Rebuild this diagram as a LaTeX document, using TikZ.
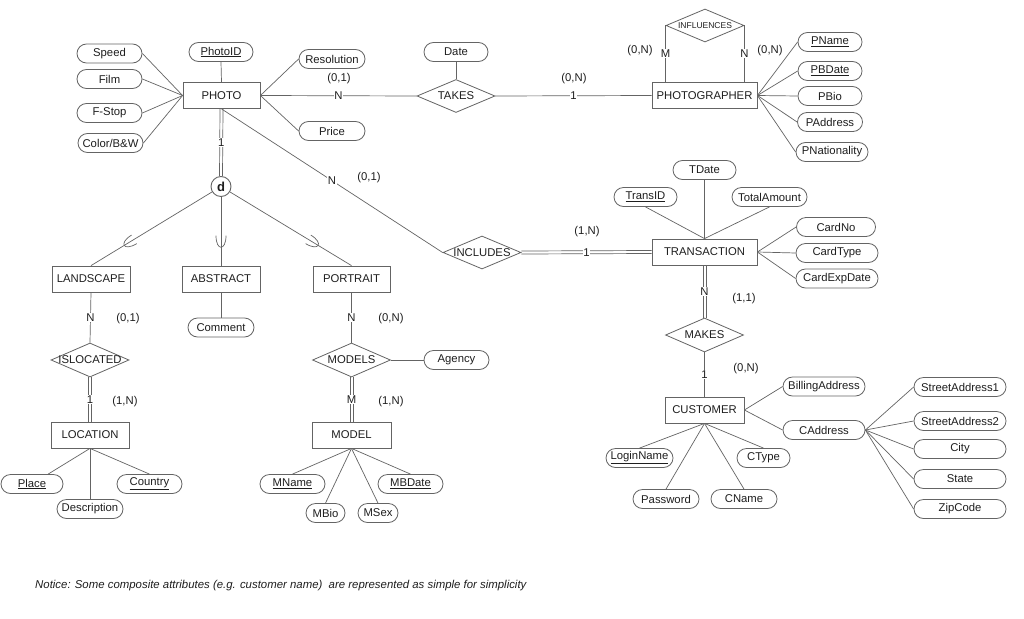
\documentclass[tikz,border=0pt]{standalone}
\usepackage{fontspec}
\setmainfont{Liberation Sans}
\usetikzlibrary{shapes.geometric,decorations.markings,calc}
\definecolor{linecol}{RGB}{100,100,100}
\definecolor{txtcol}{RGB}{30,30,30}
\newcommand{\mkattr}[5]{\node[att, minimum width=#4pt] (#1) at (#2,#3) {#5};}
\begin{document}
\begin{tikzpicture}[x=1pt,y=-1pt,
  every node/.style={text=txtcol, font=\fontsize{11.3}{13}\selectfont},
  ent/.style={draw=linecol, line width=0.8pt, rectangle, minimum width=78pt, minimum height=26pt, inner sep=0pt},
  rel/.style={draw=linecol, line width=0.8pt, diamond, minimum width=78pt, minimum height=33pt, inner sep=0pt},
  att/.style={draw=linecol, line width=0.8pt, rectangle, rounded corners=9.5pt, minimum height=19pt, inner sep=0pt},
  conn/.style={draw=linecol, line width=0.7pt},
  lab/.style={fill=white, inner sep=0.8pt},
  card/.style={inner sep=0pt},
  subsym/.style={postaction={decorate}, decoration={markings, mark=at position #1 with {\draw[linecol, line width=0.7pt] (-8pt,5pt) .. controls (7.5pt,5pt) and (7.5pt,-5pt) .. (-8pt,-5pt);}}}
]
\fill[white] (0,0) rectangle (1024,618);
\useasboundingbox (0,0) rectangle (1024,618);

% entities
\node[ent, minimum width=77pt] (PHOTO) at (221.5,95.5) {PHOTO};
\node[ent, minimum width=105pt] (PG) at (704.5,95.5) {PHOTOGRAPHER};
\node[ent, minimum width=105pt] (TR) at (704.5,252) {TRANSACTION};
\node[ent, minimum width=79pt] (CU) at (704.5,410) {CUSTOMER};
\node[ent] (LAND) at (91,279) {LANDSCAPE};
\node[ent] (ABS) at (221,279) {ABSTRACT};
\node[ent, minimum width=77pt] (PORT) at (351.5,279) {PORTRAIT};
\node[ent] (LOC) at (90,435) {LOCATION};
\node[ent, minimum width=79pt] (MODEL) at (351.5,435) {MODEL};

% relationships
\node[rel] (TAKES) at (456,96) {\makebox[0pt]{TAKES}};
\node[rel, font=\fontsize{8.5}{10}\selectfont] (INFL) at (705,25.5) {\makebox[0pt]{INFLUENCES}};
\node[rel] (INCL) at (482,252.5) {\makebox[0pt]{INCLUDES}};
\node[rel, minimum height=34pt] (MAKES) at (704.5,335) {\makebox[0pt]{MAKES}};
\node[rel, minimum height=34pt] (ISL) at (90,360) {\makebox[0pt]{ISLOCATED}};
\node[rel, minimum height=34pt] (MODELS) at (351.5,360) {\makebox[0pt]{MODELS}};

% disjointness circle
\node[circle, draw=linecol, line width=0.9pt, minimum size=20pt, inner sep=0pt, font=\bfseries\fontsize{13}{15}\selectfont] (d) at (221,186.5) {d};

% attributes
\mkattr{Speed}{109.5}{53.5}{65}{Speed}
\mkattr{Film}{109.5}{79}{65}{Film}
\mkattr{FStop}{109.5}{113}{65}{F-Stop}
\mkattr{Color}{110.5}{143}{65}{Color/B\&W}
\mkattr{PhotoID}{221}{52}{64}{\underline{PhotoID}}
\mkattr{Resolution}{332}{59}{66}{Resolution}
\mkattr{Price}{332}{131}{66}{Price}
\mkattr{Date}{456}{52}{64}{Date}
\mkattr{PName}{830}{42}{64}{\underline{PName}}
\mkattr{PBDate}{830}{71}{64}{\underline{PBDate}}
\mkattr{PBio}{830}{96}{64}{PBio}
\mkattr{PAddress}{830}{122}{65}{PAddress}
\mkattr{PNat}{832}{152}{72}{PNationality}
\mkattr{TDate}{704.5}{170}{63}{TDate}
\mkattr{TransID}{645.5}{197}{63}{\underline{TransID}}
\mkattr{TotalAmount}{769.5}{197}{75}{TotalAmount}
\mkattr{CardNo}{836}{227}{79}{CardNo}
\mkattr{CardType}{837}{253}{82}{CardType}
\mkattr{CardExp}{837}{278.5}{82}{CardExpDate}
\mkattr{Comment}{221}{327.5}{66}{Comment}
\mkattr{Agency}{456.5}{360}{65}{Agency}
\mkattr{Place}{32}{484}{62}{\underline{Place}}
\mkattr{Country}{149.5}{484}{65}{\underline{Country}}
\mkattr{Descr}{90}{509}{66}{Description}
\mkattr{MName}{292.5}{484}{65}{\underline{MName}}
\mkattr{MBDate}{410.5}{484}{65}{\underline{MBDate}}
\mkattr{MBio}{325.5}{513}{39}{MBio}
\mkattr{MSex}{378}{513}{40}{MSex}
\mkattr{Billing}{824}{386.5}{82}{BillingAddress}
\mkattr{CAddress}{824}{430}{82}{CAddress}
\mkattr{SA1}{960}{387}{92}{StreetAddress1}
\mkattr{SA2}{960}{421}{92}{StreetAddress2}
\mkattr{City}{960}{449}{92}{City}
\mkattr{State}{960}{479}{92}{State}
\mkattr{Zip}{960}{509}{92}{ZipCode}
\mkattr{Login}{639.5}{458}{67}{\underline{LoginName}}
\mkattr{CType}{763.5}{458}{53}{CType}
\mkattr{Password}{666}{499}{66}{Password}
\mkattr{CName}{744}{499}{66}{CName}

% cardinality labels
\node[card] (c1) at (339,79) {(0,1)};
\node[card] (c2) at (574,79) {(0,N)};
\node[card] (c3) at (640,51) {(0,N)};
\node[card] (c4) at (770,51) {(0,N)};
\node[card] (c5) at (369,178) {(0,1)};
\node[card] (c6) at (587,232) {(1,N)};
\node[card] (c7) at (744,299) {(1,1)};
\node[card] (c8) at (746,369) {(0,N)};
\node[card] (c9) at (128,319) {(0,1)};
\node[card] (c10) at (125,402) {(1,N)};
\node[card] (c11) at (391,319) {(0,N)};
\node[card] (c12) at (391,402) {(1,N)};

% PHOTO connectors
\draw[conn] (Speed.east) -- (PHOTO.west);
\draw[conn] (Film.east) -- (PHOTO.west);
\draw[conn] (FStop.east) -- (PHOTO.west);
\draw[conn] (Color.east) -- (PHOTO.west);
\draw[conn] (PhotoID.south) -- (PHOTO.north);
\draw[conn] (PHOTO.east) -- (Resolution.west);
\draw[conn] (PHOTO.east) -- (Price.west);
\draw[conn] (PHOTO.east) -- node[lab]{N} (TAKES.west);
\draw[conn] (TAKES.east) -- node[lab]{1} (PG.west);
\draw[conn] (Date.south) -- (TAKES.north);
\draw[conn] (PG.north -| INFL.west) -- node[lab]{M} (INFL.west);
\draw[conn] (PG.north -| INFL.east) -- node[lab]{N} (INFL.east);
\draw[conn] (PG.east) -- (PName.west);
\draw[conn] (PG.east) -- (PBDate.west);
\draw[conn] (PG.east) -- (PBio.west);
\draw[conn] (PG.east) -- (PAddress.west);
\draw[conn] (PG.east) -- (PNat.west);

% specialization
\draw[conn] ([xshift=-1.5pt]PHOTO.south) -- ([xshift=-1.5pt]d.north);
\draw[conn] ([xshift=1.5pt]PHOTO.south) -- ([xshift=1.5pt]d.north);
\path (PHOTO.south) -- node[lab]{1} (d.north);
\draw[conn, subsym=0.70] (d) -- (LAND.north);
\draw[conn, subsym=0.68] (d) -- (ABS.north);
\draw[conn, subsym=0.70] (d) -- (PORT.north);
\draw[conn] (ABS.south) -- (Comment.north);

% location / model
\draw[conn] (LAND.south) -- node[lab]{N} (ISL.north);
\draw[conn] ([xshift=-1.5pt]ISL.south) -- ([xshift=-1.5pt]LOC.north);
\draw[conn] ([xshift=1.5pt]ISL.south) -- ([xshift=1.5pt]LOC.north);
\path (ISL.south) -- node[lab]{1} (LOC.north);
\draw[conn] (PORT.south) -- node[lab]{N} (MODELS.north);
\draw[conn] ([xshift=-1.5pt]MODELS.south) -- ([xshift=-1.5pt]MODEL.north);
\draw[conn] ([xshift=1.5pt]MODELS.south) -- ([xshift=1.5pt]MODEL.north);
\path (MODELS.south) -- node[lab]{M} (MODEL.north);
\draw[conn] (MODELS.east) -- (Agency.west);
\draw[conn] (LOC.south) -- (Place);
\draw[conn] (LOC.south) -- (Country.north);
\draw[conn] (LOC.south) -- (Descr.north);
\draw[conn] (MODEL.south) -- (MName.north);
\draw[conn] (MODEL.south) -- (MBDate.north);
\draw[conn] (MODEL.south) -- (MBio.north);
\draw[conn] (MODEL.south) -- (MSex.north);

% transaction
\draw[conn] (PHOTO.south) -- node[lab]{N} (INCL.west);
\draw[conn] ([yshift=1.5pt]INCL.east) -- ([yshift=1.5pt]TR.west);
\draw[conn] ([yshift=-1.5pt]INCL.east) -- ([yshift=-1.5pt]TR.west);
\path (INCL.east) -- node[lab]{1} (TR.west);
\draw[conn] (TDate.south) -- (TR.north);
\draw[conn] (TransID.south) -- (TR.north);
\draw[conn] (TotalAmount.south) -- (TR.north);
\draw[conn] (TR.east) -- (CardNo.west);
\draw[conn] (TR.east) -- (CardType.west);
\draw[conn] (TR.east) -- (CardExp.west);
\draw[conn] ([xshift=-1.5pt]TR.south) -- ([xshift=-1.5pt]MAKES.north);
\draw[conn] ([xshift=1.5pt]TR.south) -- ([xshift=1.5pt]MAKES.north);
\path (TR.south) -- node[lab]{N} (MAKES.north);
\draw[conn] (MAKES.south) -- node[lab]{1} (CU.north);

% customer
\draw[conn] (CU.east) -- (Billing.west);
\draw[conn] (CU.east) -- (CAddress.west);
\draw[conn] (CAddress.east) -- (SA1.west);
\draw[conn] (CAddress.east) -- (SA2.west);
\draw[conn] (CAddress.east) -- (City.west);
\draw[conn] (CAddress.east) -- (State.west);
\draw[conn] (CAddress.east) -- (Zip.west);
\draw[conn] (CU.south) -- (Login.north);
\draw[conn] (CU.south) -- (Password.north);
\draw[conn] (CU.south) -- (CName.north);
\draw[conn] (CU.south) -- (CType.north);

% note
\node[anchor=west, inner sep=0pt, font=\fontsize{11.4}{13}\selectfont\itshape] (note) at (35,586) {Notice: Some composite attributes (e.g. customer name)~ are represented as simple for simplicity};
\end{tikzpicture}
\end{document}
